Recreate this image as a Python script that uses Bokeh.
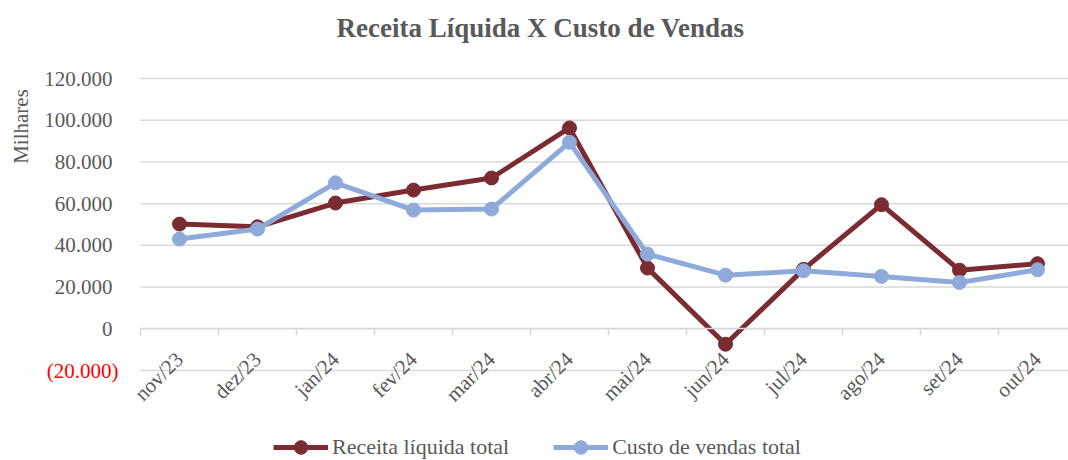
import math
from bokeh.plotting import figure
from bokeh.models import Range1d, FixedTicker, Label, Legend, LegendItem, LinearAxis
from bokeh.embed import file_html
from bokeh.resources import INLINE

categories = ["nov/23", "dez/23", "jan/24", "fev/24", "mar/24", "abr/24",
              "mai/24", "jun/24", "jul/24", "ago/24", "set/24", "out/24"]
receita = [50200, 48900, 60300, 66500, 72300, 96300, 29100, -7400, 28500, 59500, 28100, 31200]
custo = [43000, 47800, 70000, 56900, 57400, 89400, 35800, 25700, 27800, 25100, 22200, 28300]
y_ticks = [-20000, 0, 20000, 40000, 60000, 80000, 100000, 120000]
y_labels = ["(20.000)", "0", "20.000", "40.000", "60.000", "80.000", "100.000", "120.000"]

FONT = "Liberation Serif"
GRAY = "#595959"
GRID = "#d9d9d9"
C_REC = "#7B2C32"
C_CUS = "#8EAADB"

# canvas / plot-area layout in pixels
W, H = 1068, 460
PL, PR, PT, PB = 140, 1068, 78, 370
PX_PER_CAT = 78.0
y_lo, y_hi = y_ticks[0], y_ticks[-1]
py = (PB - PT) / (y_hi - y_lo)

x_start = -PL / PX_PER_CAT
x_end = x_start + W / PX_PER_CAT
x_right = (PR - PL) / PX_PER_CAT
y_end = y_hi + PT / py
y_start = y_lo - (H - PB) / py

n = len(categories)
x = [i + 0.5 for i in range(n)]
bounds = list(range(n + 1))

p = figure(width=W, height=H, x_range=Range1d(x_start, x_end), y_range=Range1d(y_start, y_end),
           output_backend="svg", toolbar_location=None,
           x_axis_location=None, y_axis_location=None, min_border=0)
p.outline_line_color = None
p.background_fill_color = "white"
p.border_fill_color = "white"
p.xgrid.visible = False
p.ygrid.visible = False

# horizontal gridlines limited to the plot area
p.segment(x0=[0] * len(y_ticks), x1=[x_right] * len(y_ticks), y0=y_ticks, y1=y_ticks,
          line_color=GRID, line_width=1.5)

# y axis
ya = LinearAxis(fixed_location=0)
ya.ticker = FixedTicker(ticks=y_ticks)
ya.major_label_overrides = {t: (l if t >= 0 else " ") for t, l in zip(y_ticks, y_labels)}
ya.axis_line_color = None
ya.major_tick_line_color = None
ya.minor_tick_line_color = None
ya.major_tick_out = 0
ya.major_tick_in = 0
ya.major_label_standoff = 28
ya.major_label_text_font = FONT
ya.major_label_text_font_size = "21px"
ya.major_label_text_color = GRAY
p.add_layout(ya, "left")

# x axis on the zero line
xa = LinearAxis(fixed_location=0, bounds=(0, x_right))
xa.ticker = FixedTicker(ticks=x, minor_ticks=bounds)
xa.major_label_overrides = {xi: c for xi, c in zip(x, categories)}
xa.major_label_orientation = math.pi / 4
xa.major_tick_out = 0
xa.major_tick_in = 0
xa.major_tick_line_color = None
xa.minor_tick_out = 7
xa.minor_tick_in = 0
xa.minor_tick_line_color = GRID
xa.minor_tick_line_width = 1.5
xa.axis_line_color = GRID
xa.axis_line_width = 1.5
xa.major_label_standoff = 20
xa.major_label_text_font = FONT
xa.major_label_text_font_size = "21px"
xa.major_label_text_color = GRAY
p.add_layout(xa, "below")

# series
l1 = p.line(x, receita, line_color=C_REC, line_width=5)
c1 = p.scatter(x, receita, size=14, fill_color=C_REC, line_color=C_REC)
l2 = p.line(x, custo, line_color=C_CUS, line_width=5)
c2 = p.scatter(x, custo, size=14, fill_color=C_CUS, line_color=C_CUS)

legend = Legend(items=[LegendItem(label="Receita líquida total", renderers=[l1, c1]),
                       LegendItem(label="Custo de vendas total", renderers=[l2, c2])],
                orientation="horizontal", location=(273, -4))
legend.label_text_font = FONT
legend.label_text_font_size = "22px"
legend.label_text_color = GRAY
legend.border_line_color = None
legend.background_fill_alpha = 0
legend.glyph_width = 55
legend.glyph_height = 34
legend.label_standoff = 4
legend.spacing = 44
legend.padding = 0
legend.margin = 0
p.add_layout(legend, "center")

# red negative tick label
p.add_layout(Label(x=0, y=-20000, x_offset=-22, text="(20.000)",
                   text_align="right", text_baseline="middle", text_font=FONT,
                   text_font_size="21px", text_color="red"))
# y axis title
p.add_layout(Label(x=20, y=H - 126, x_units="screen", y_units="screen", text="Milhares",
                   angle=math.pi / 2, text_align="center", text_baseline="middle",
                   text_font=FONT, text_font_size="21px", text_color=GRAY))
# chart title
p.add_layout(Label(x=540, y=H - 27, x_units="screen", y_units="screen",
                   text="Receita Líquida X Custo de Vendas",
                   text_align="center", text_baseline="middle", text_font=FONT,
                   text_font_size="27px", text_font_style="bold", text_color=GRAY))

open("out.html", "w").write(file_html(p, INLINE))
